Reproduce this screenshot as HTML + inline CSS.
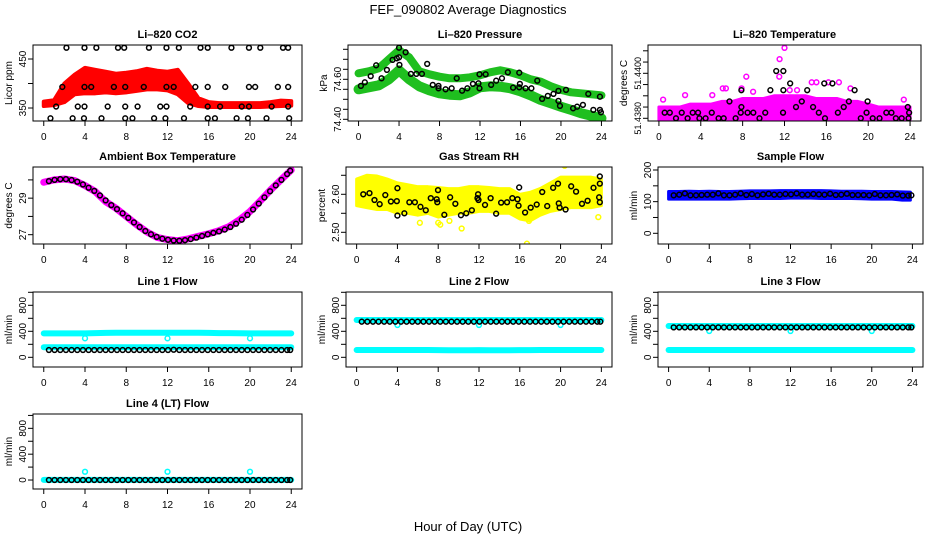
<!DOCTYPE html>
<html><head><meta charset="utf-8">
<style>
html,body{margin:0;padding:0;background:#fff;}
svg{display:block;font-family:"Liberation Sans",sans-serif;}
</style></head>
<body>
<svg id="chart" width="936" height="540" viewBox="0 0 936 540" xmlns="http://www.w3.org/2000/svg">
<rect width="936" height="540" fill="#fff"/>
<text x="468" y="14" text-anchor="middle" font-size="13">FEF_090802  Average Diagnostics</text>
<text x="468" y="531" text-anchor="middle" font-size="13">Hour of Day (UTC)</text>
</svg>
<script>
// ---- shared x data ----
const hours = [0,1,2,3,4,5,6,7,8,9,10,11,12,13,14,15,16,17,18,19,20,21,22,23,24];
const xTicks = [0,4,8,12,16,20,24];
const blackHours = [0.5,1.05,1.6,2.15,2.7,3.25,3.8,4.35,4.9,5.45,6.0,6.55,7.1,7.65,8.2,8.75,9.3,9.85,10.4,10.95,11.5,12.05,12.6,13.15,13.7,14.25,14.8,15.35,15.9,16.45,17.0,17.55,18.1,18.65,19.2,19.75,20.3,20.85,21.4,21.95,22.5,23.05,23.6,23.9];

// ---- CO2 ----
const co2Lower = [354,356,362,378,380,380,382,380,382,385,388,388,386,378,360,354,352,352,352,352,352,352,353,354,355];
const co2Upper = [363,366,400,418,432,428,424,420,422,425,430,426,424,428,400,370,362,360,360,360,360,360,362,365,364];
const co2BlackH = [2.2,3.95,5.1,7.2,7.8,10.2,11.9,13.1,15.2,15.9,18.2,19.9,21.0,23.2,23.7, 1.8,3.95,4.6,6.8,7.9,9.7,11.9,12.6,14.7,15.9,17.6,19.9,20.5,22.7,23.7, 1.2,3.3,3.95,6.2,7.9,9.1,11.3,11.9,14.2,15.9,17.1,19.2,19.9,22.1,23.7, 0.65,2.8,3.9,5.6,7.9,8.6,10.7,11.8,13.6,15.9,16.6,18.7,19.8,21.6,23.8];
const co2BlackV = [473,473,473,473,473,473,473,473,473,473,473,473,473,473,473, 393,393,393,393,393,393,393,393,393,393,393,393,393,393,393, 353,353,353,353,353,353,353,353,353,353,353,353,353,353,353, 329,329,329,329,329,329,329,329,329,329,329,329,329,329,329];

// ---- Pressure ----
const presUpper = [74.63,74.64,74.655,74.70,74.745,74.71,74.64,74.625,74.613,74.605,74.605,74.61,74.62,74.635,74.645,74.635,74.62,74.60,74.588,74.565,74.547,74.535,74.53,74.525,74.52];
const presLower = [74.55,74.56,74.57,74.60,74.645,74.60,74.565,74.545,74.53,74.523,74.52,74.535,74.56,74.565,74.563,74.555,74.54,74.52,74.497,74.48,74.463,74.447,74.43,74.418,74.405];
const presBlackH = [0.23,0.62,1.2,1.74,2.27,2.8,3.36,3.78,4.0,4.04,4.0,4.65,5.17,5.71,6.26,6.78,7.33,7.9,7.9,8.6,9.2,9.7,10.23,10.75,11.3,11.85,11.95,11.95,12.56,13.1,13.6,14.17,14.75,15.27,15.88,15.88,15.94,16.5,17.08,17.66,18.14,18.7,19.26,19.75,19.75,19.9,20.5,21.2,21.6,22.17,22.7,23.2,23.85,23.95,23.85];
const presBlackV = [74.567,74.585,74.616,74.67,74.605,74.647,74.697,74.705,74.71,74.672,74.758,74.735,74.627,74.627,74.627,74.677,74.572,74.567,74.555,74.55,74.555,74.605,74.543,74.555,74.577,74.58,74.555,74.625,74.625,74.572,74.593,74.605,74.635,74.558,74.56,74.633,74.577,74.555,74.555,74.593,74.502,74.517,74.527,74.542,74.492,74.467,74.547,74.455,74.463,74.472,74.527,74.447,74.447,74.435,74.513];

// ---- Li-820 temperature ----
const tempUpper = [51.4385,51.4385,51.4385,51.43863,51.43863,51.43863,51.43875,51.43875,51.43888,51.43888,51.43888,51.439,51.439,51.439,51.439,51.43888,51.43888,51.43888,51.43875,51.43875,51.43863,51.4385,51.4385,51.4385,51.4385];
const tempMagH = [0.4,2.5,5.1,6.1,6.4,7.9,8.35,11.5,11.53,12.0,14.6,15.05,16.2,17.2,18.3,23.4,9.0,12.5,13.2];
const tempMagV = [51.43883,51.43903,51.43903,51.43933,51.43933,51.43933,51.43985,51.43985,51.44063,51.44113,51.4396,51.4396,51.4396,51.4396,51.43933,51.43883,51.43918,51.43925,51.43925];
const tempBlackH = [0.55,1.04,1.63,2.18,2.74,3.23,3.74,3.87,4.46,5.05,5.7,6.19,6.74,7.33,7.82,7.88,7.88,8.47,9.02,9.61,10.16,10.65,11.21,11.89,11.86,11.89,12.54,13.1,13.65,14.17,14.73,15.28,15.8,15.87,16.58,17.1,17.66,18.15,18.7,19.29,19.84,19.94,20.43,21.08,21.73,22.22,22.64,23.2,23.78,23.85,23.91];
const tempBlackV = [51.43825,51.43825,51.438,51.43825,51.438,51.43825,51.43825,51.438,51.438,51.43825,51.438,51.438,51.43875,51.438,51.43825,51.4385,51.43925,51.43825,51.43825,51.438,51.43825,51.43925,51.4401,51.4401,51.43825,51.43925,51.43955,51.4385,51.43875,51.43925,51.4385,51.43825,51.43955,51.438,51.43955,51.43825,51.4385,51.43875,51.43925,51.438,51.43825,51.43875,51.438,51.438,51.43825,51.43825,51.438,51.438,51.4385,51.438,51.43825];

// ---- Ambient box temperature ----
const ambCurve = [29.87,30.0,30.05,29.96,29.69,29.36,28.81,28.45,28.0,27.55,27.15,26.85,26.73,26.67,26.77,26.91,27.05,27.22,27.45,27.82,28.27,28.85,29.45,30.0,30.54];
const ambBlack = [29.93,30.0,30.04,30.04,29.99,29.9,29.75,29.57,29.4,29.15,28.88,28.62,28.4,28.17,27.92,27.67,27.42,27.2,27.02,26.88,26.78,26.72,26.68,26.67,26.7,26.76,26.84,26.93,27.02,27.1,27.18,27.28,27.42,27.6,27.82,28.08,28.38,28.7,29.04,29.38,29.7,30.0,30.32,30.5];

// ---- Gas stream RH ----
const rhUpper = [2.64,2.65,2.648,2.64,2.63,2.625,2.62,2.62,2.618,2.615,2.615,2.62,2.62,2.618,2.615,2.615,2.60,2.605,2.615,2.63,2.645,2.645,2.645,2.645,2.64];
const rhLower = [2.57,2.565,2.56,2.56,2.55,2.55,2.545,2.55,2.54,2.545,2.55,2.55,2.555,2.555,2.55,2.55,2.535,2.53,2.545,2.555,2.56,2.565,2.565,2.565,2.57];
const rhYelH = [16.7,20.4,6.2,10.3,8.0,9.1,16.9,23.7,8.2];
const rhYelV = [2.47,2.675,2.525,2.51,2.525,2.53,2.53,2.54,2.52];
const rhBlackH = [0.65,1.26,1.75,2.26,2.81,3.36,3.94,4.0,4.0,4.68,5.17,5.71,6.26,6.78,7.27,7.85,7.91,7.98,8.6,9.17,9.68,10.23,10.75,11.3,11.85,11.91,11.95,12.59,13.14,13.68,14.17,14.75,15.27,15.78,15.88,15.94,16.52,17.07,17.66,18.2,18.69,19.27,19.75,19.82,19.91,20.49,21.04,21.52,22.1,22.65,23.23,23.78,23.85,23.85,23.85];
const rhBlackV = [2.600,2.603,2.585,2.574,2.598,2.581,2.582,2.544,2.616,2.55,2.579,2.579,2.567,2.558,2.590,2.587,2.579,2.611,2.546,2.592,2.575,2.545,2.55,2.558,2.590,2.600,2.585,2.572,2.590,2.549,2.578,2.579,2.590,2.587,2.570,2.618,2.552,2.565,2.573,2.606,2.569,2.617,2.628,2.576,2.565,2.560,2.621,2.607,2.575,2.583,2.617,2.592,2.579,2.628,2.647];

// ---- Sample flow ----
const sfUpper = [132,132,133,132,133,132,132,133,134,134,134,135,135,135,135,135,134,133,133,133,132,132,132,131,130];
const sfLower = [108,108,108,108,108,108,108,109,110,110,110,110,111,111,111,110,110,110,110,109,108,108,108,105,105];
const sfBlack = [120,122,126,120,120,121,122,122,126,120,120,122,126,121,124,120,123,125,122,122,124,123,126,122,122,124,123,122,125,121,122,125,121,121,121,120,124,120,120,121,123,119,119,120];

// ---- Line flows ----
const l1Hi = [369,369,369,369,369,372,375,378,378,378,378,378,378,378,378,378,375,372,372,370,369,369,369,369,369];
const l1Lo = [154,154,154,154,154,154,154,154,154,154,154,154,154,154,154,154,154,154,154,154,154,154,154,154,154];
const l1Dip = [292,292,292]; const dipHours = [4,12,20];
const l1Black = [112,112,112,112,112,112,112,112,112,112,112,112,112,112,112,112,112,112,112,112,112,112,116,112,112,112,112,112,112,112,112,112,112,112,112,112,112,112,112,112,112,112,112,112];
const l2Hi = [574,574,574,574,574,574,574,574,574,574,574,574,574,574,574,574,574,574,574,574,574,574,574,574,574];
const l2Lo = [112,112,112,112,112,112,112,112,110,108,108,108,110,108,108,108,110,110,112,112,112,112,112,112,112];
const l2Dip = [497,497,497];
const l2Black = [548,548,548,548,548,548,548,548,548,548,548,548,548,548,548,548,548,548,548,548,548,548,548,548,548,548,548,548,548,548,548,548,548,548,548,548,548,548,548,548,548,548,548,548];
const l3Hi = [482,482,482,482,482,482,482,482,482,482,482,482,482,482,482,482,482,482,482,482,482,482,482,482,482];
const l3Lo = [112,112,112,112,112,112,112,112,112,112,112,112,112,112,112,112,112,112,112,112,112,112,112,112,112];
const l3Dip = [405,405,405];
const l3Black = [461,461,461,461,461,461,461,461,461,461,461,461,461,461,461,461,461,461,461,461,461,461,461,461,461,461,461,461,461,461,461,461,461,461,461,461,461,461,461,461,461,461,461,461];
const l4Cyan = [2,2,2,2,2,2,2,2,2,2,2,2,2,2,2,2,2,2,2,2,2,2,2,2,2];
const l4Out = [128,128,128];
const l4Black = [0,0,0,0,0,0,0,0,0,0,0,0,0,0,0,0,0,0,0,0,0,0,0,0,0,0,0,0,0,0,0,0,0,0,0,0,0,0,0,0,0,0,0,0];

const NS = "http://www.w3.org/2000/svg";
const svg = document.getElementById('chart');
function mk(tag, attrs, parent){ const e=document.createElementNS(NS,tag); for(const k in attrs) e.setAttribute(k,attrs[k]); (parent||svg).appendChild(e); return e; }

function panel(p){
  const g = mk('g',{});
  
  
  p.g = g;
  p.x = h => p.L + (p.R-p.L)*(0.04 + 0.92*h/24);
  p.y = v => p.B - (v - p.ymin)/(p.ymax - p.ymin)*(p.B - p.T);
  const t = mk('text',{x:(p.L+p.R)/2, y:p.T-7, 'text-anchor':'middle','font-size':11,'font-weight':'bold'}, g);
  t.textContent = p.title;
  
  
  const yt = mk('text',{transform:`translate(${p.L-21},${(p.T+p.B)/2}) rotate(-90)`,'text-anchor':'middle','font-size':10}, g);
  yt.textContent = p.ylab;
  
  
  for(const v of p.yticks){
    const yy = p.y(v);
    const tk = mk('line',{x1:p.L-5,x2:p.L,y1:yy,y2:yy,stroke:'#000','stroke-width':1}, g);
    
    
  }
  p.ylabels.forEach((v,i)=>{
    const yl = mk('text',{transform:`translate(${p.L-7},${p.y(v)}) rotate(-90)`,'text-anchor':'middle','font-size':p.yfs||10}, g);
    yl.textContent = p.ylabelText[i];
    
    
  });
  for(const h of xTicks){
    const xx = p.x(h);
    const tk = mk('line',{x1:xx,x2:xx,y1:p.B,y2:p.B+5,stroke:'#000','stroke-width':1}, g);
    
    
    const xl = mk('text',{x:xx,y:p.B+19,'text-anchor':'middle','font-size':10}, g);
    xl.textContent = h;
    
    
  }
  const clip = mk('clipPath',{id:'clip-'+p.id}, g);
  mk('rect',{x:p.L,y:p.T,width:p.R-p.L,height:p.B-p.T}, clip);
  p.plot = mk('g',{'clip-path':`url(#clip-${p.id})`}, g);
  
  
  return p;
}
function frame(p){
  const r = mk('rect',{x:p.L,y:p.T,width:p.R-p.L,height:p.B-p.T,fill:'none',stroke:'#000','stroke-width':1}, p.g);
  
  
}
function band(p, hs, lo, hi, color, name, sw){
  let pts = hs.map((h,i)=>p.x(h)+','+p.y(hi[i]));
  for(let i=hs.length-1;i>=0;i--) pts.push(p.x(hs[i])+','+p.y(lo[i]));
  const poly = mk('polygon',{points:pts.join(' '),fill:color,stroke:color,'stroke-width':sw||4,'stroke-linejoin':'round'}, p.plot);
  
  
}
function line(p, hs, vs, color, w, name){
  const pl = mk('polyline',{points:hs.map((h,i)=>p.x(h)+','+p.y(vs[i])).join(' '),fill:'none',stroke:color,'stroke-width':w,'stroke-linejoin':'round','stroke-linecap':'round'}, p.plot);
  
  
}
function pts(p, hs, vs, color, name){
  hs.forEach((h,i)=>{
    const c = mk('circle',{cx:p.x(h),cy:p.y(vs[i]),r:2.4,fill:'none',stroke:color,'stroke-width':1.5}, p.plot);
    
    
  });
}

const R1={T:45,B:121}, R2={T:167,B:244}, R3={T:292,B:367}, R4={T:414,B:489};
const flowTicks=[0,200,400,600,800,1000];

// Panel 1: CO2
let p = panel({id:'co2',title:'Li\u2013820 CO2',ylab:'Licor ppm',L:33,R:302,...R1,ymin:323.5,ymax:478.6,yticks:[350,400,450],ylabels:[350,450],ylabelText:['350','450']});
band(p,hours,co2Lower,co2Upper,'#ff0000','co2-red-series',4);
pts(p,co2BlackH,co2BlackV,'#000','co2-black-point'); frame(p);

// Panel 2: pressure
p = panel({id:'pressure',title:'Li\u2013820 Pressure',ylab:'kPa',L:348,R:612,...R1,ymin:74.3915,ymax:74.7715,yticks:[74.40,74.45,74.50,74.55,74.60,74.65,74.70,74.75],ylabels:[74.40,74.60],ylabelText:['74.40','74.60']});
line(p,hours,presUpper,'#1fbf1f',8,'pressure-green-upper');
line(p,hours,presLower,'#1fbf1f',10,'pressure-green-lower');
pts(p,presBlackH,presBlackV,'#000','pressure-black-point'); frame(p);

// Panel 3: Li-820 temperature
p = panel({id:'li820-temp',title:'Li\u2013820 Temperature',ylab:'degrees C',L:648,R:921,...R1,ymin:51.43788,ymax:51.441258,yfs:9,yticks:[51.438,51.4385,51.439,51.4395,51.440,51.4405,51.441],ylabels:[51.438,51.440],ylabelText:['51.4380','51.4400']});
band(p,hours,hours.map(()=>51.4379),tempUpper,'#ff00ff','temp-magenta-series',3);
pts(p,tempMagH,tempMagV,'#ff00ff','temp-magenta-point');
pts(p,tempBlackH,tempBlackV,'#000','temp-black-point'); frame(p);

// Panel 4: ambient
p = panel({id:'ambient',title:'Ambient Box Temperature',ylab:'degrees C',L:33,R:302,...R2,ymin:26.49,ymax:30.706,yticks:[27,28,29,30],ylabels:[27,29],ylabelText:['27','29']});
line(p,hours,ambCurve,'#ff00ff',7,'ambient-magenta-series');
pts(p,blackHours,ambBlack,'#000','ambient-black-point'); frame(p);

// Panel 5: RH
p = panel({id:'rh',title:'Gas Stream RH',ylab:'percent',L:346,R:612,...R2,ymin:2.4692,ymax:2.6718,yticks:[2.50,2.55,2.60,2.65],ylabels:[2.50,2.60],ylabelText:['2.50','2.60']});
band(p,hours,rhLower,rhUpper,'#ffff00','rh-yellow-series',3);
pts(p,rhYelH,rhYelV,'#ffff00','rh-yellow-point');
pts(p,rhBlackH,rhBlackV,'#000','rh-black-point'); frame(p);

// Panel 6: sample flow
p = panel({id:'sample-flow',title:'Sample Flow',ylab:'ml/min',L:658,R:923,...R2,ymin:-33.8,ymax:209.5,yticks:[0,50,100,150,200],ylabels:[0,100,200],ylabelText:['0','100','200']});
band(p,hours.slice(0,24).concat([23.8]),sfLower,sfUpper,'#0000ff','sample-flow-blue-series',3);
pts(p,blackHours,sfBlack,'#000','sample-flow-black-point'); frame(p);

// Panel 7-9: line flows
p = panel({id:'line1',title:'Line 1 Flow',ylab:'ml/min',L:33,R:302,...R3,ymin:-149,ymax:1004.6,yticks:flowTicks,ylabels:[0,400,800],ylabelText:['0','400','800']});
line(p,hours,l1Hi,'#00ffff',6,'line1-cyan-upper');
line(p,hours,l1Lo,'#00ffff',6,'line1-cyan-lower');
pts(p,dipHours,l1Dip,'#00ffff','line1-cyan-dip');
pts(p,blackHours,l1Black,'#000','line1-black-point'); frame(p);

p = panel({id:'line2',title:'Line 2 Flow',ylab:'ml/min',L:346,R:612,...R3,ymin:-149,ymax:1004.6,yticks:flowTicks,ylabels:[0,400,800],ylabelText:['0','400','800']});
line(p,hours,l2Hi,'#00ffff',6,'line2-cyan-upper');
line(p,hours,l2Lo,'#00ffff',6,'line2-cyan-lower');
pts(p,dipHours,l2Dip,'#00ffff','line2-cyan-dip');
pts(p,blackHours,l2Black,'#000','line2-black-point'); frame(p);

p = panel({id:'line3',title:'Line 3 Flow',ylab:'ml/min',L:658,R:923,...R3,ymin:-149,ymax:1004.6,yticks:flowTicks,ylabels:[0,400,800],ylabelText:['0','400','800']});
line(p,hours,l3Hi,'#00ffff',6,'line3-cyan-upper');
line(p,hours,l3Lo,'#00ffff',6,'line3-cyan-lower');
pts(p,dipHours,l3Dip,'#00ffff','line3-cyan-dip');
pts(p,blackHours,l3Black,'#000','line3-black-point'); frame(p);

p = panel({id:'line4',title:'Line 4 (LT) Flow',ylab:'ml/min',L:33,R:302,...R4,ymin:-139,ymax:1022,yticks:flowTicks,ylabels:[0,400,800],ylabelText:['0','400','800']});
line(p,hours,l4Cyan,'#00ffff',6,'line4-cyan-series');
pts(p,dipHours,l4Out,'#00ffff','line4-cyan-outlier');
pts(p,blackHours,l4Black,'#000','line4-black-point'); frame(p);
</script>
</body></html>
